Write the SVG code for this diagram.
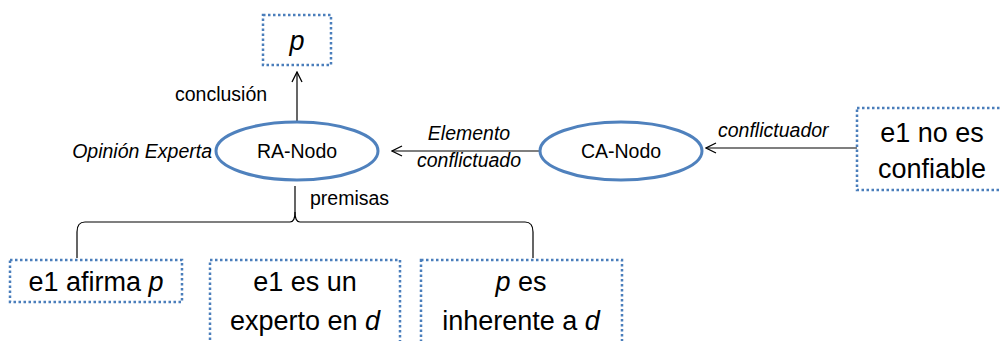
<svg xmlns="http://www.w3.org/2000/svg" width="1000" height="341" viewBox="0 0 1000 341">
<defs>
<marker id="arr" markerWidth="12" markerHeight="12" refX="11" refY="6" orient="auto" markerUnits="userSpaceOnUse">
<path d="M1,1 L11,6 L1,11" fill="none" stroke="#000" stroke-width="1.3"/>
</marker>
</defs>
<style>
.box{fill:#fff;stroke:#4a7ebb;stroke-width:2.5;stroke-dasharray:2.5 2.5}
.ell{fill:#fff;stroke:#4f81bd;stroke-width:3}
.big{font-family:"Liberation Sans",Arial,sans-serif;font-size:27px;fill:#000;text-anchor:middle}
.sm{font-family:"Liberation Sans",Arial,sans-serif;font-size:19.5px;fill:#000}
.mid{text-anchor:middle}
.it{font-style:italic}
.ln{fill:none;stroke:#000;stroke-width:1.2}
</style>
<g id="connectors">
<line class="ln" x1="297" y1="122" x2="297" y2="72" marker-end="url(#arr)"/>
<line class="ln" x1="540" y1="151" x2="392" y2="151" marker-end="url(#arr)"/>
<line class="ln" x1="857" y1="148" x2="706" y2="148" marker-end="url(#arr)"/>
<path class="ln" d="M295,186 L295,212 Q295,222 290,222 L85,222 Q77,222 77,232 L77,258"/>
<path class="ln" d="M295,212 Q295,222 300,222 L525,222 Q533,222 533,232 L533,258"/>
<text class="sm" x="175" y="101">conclusión</text>
<text class="sm it mid" x="469" y="140">Elemento</text>
<text class="sm it mid" x="469" y="167">conflictuado</text>
<text class="sm it" x="718" y="137">conflictuador</text>
<text class="sm" x="310" y="205">premisas</text>
</g>
<g id="p">
<rect class="box" x="263" y="15" width="68" height="50"/>
<text class="big it" x="297" y="50">p</text>
</g>
<g id="ra">
<ellipse class="ell" cx="297" cy="151" rx="81" ry="29"/>
<text class="sm mid" x="297" y="158">RA-Nodo</text>
<text class="sm it" x="212" y="158" text-anchor="end">Opinión Experta</text>
</g>
<g id="ca">
<ellipse class="ell" cx="621" cy="151" rx="81" ry="29"/>
<text class="sm mid" x="621" y="158">CA-Nodo</text>
</g>
<g id="e1noes">
<rect class="box" x="857" y="108" width="150" height="82"/>
<text class="big" x="932" y="142">e1 no es</text>
<text class="big" x="932" y="178">confiable</text>
</g>
<g id="afirma">
<rect class="box" x="10" y="260" width="172" height="42"/>
<text class="big" x="96" y="291">e1 afirma <tspan font-style="italic">p</tspan></text>
</g>
<g id="experto">
<rect class="box" x="210" y="260" width="190" height="90"/>
<text class="big" x="305" y="291">e1 es un</text>
<text class="big" x="305" y="330">experto en <tspan font-style="italic">d</tspan></text>
</g>
<g id="inherente">
<rect class="box" x="421" y="260" width="201" height="90"/>
<text class="big" x="521" y="291"><tspan font-style="italic">p</tspan> es</text>
<text class="big" x="521" y="330">inherente a <tspan font-style="italic">d</tspan></text>
</g>
</svg>
